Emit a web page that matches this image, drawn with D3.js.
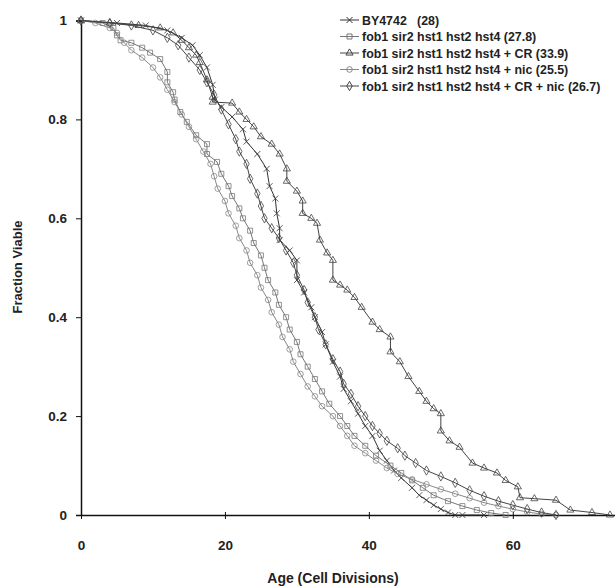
<!DOCTYPE html>
<html>
<head>
<meta charset="utf-8">
<script src="https://cdn.jsdelivr.net/npm/d3@7"></script>
<style>
  body { margin: 0; background: #fff; }
  svg text { font-family: Arial, "Liberation Sans", sans-serif; font-weight: bold; fill: #222; }
</style>
</head>
<body>
<div id="chart"></div>
<script>
// survival curves, [age, fraction viable]
const by4742 = [[0,1],[5,0.995],[9,0.99],[12,0.98],[14,0.965],[15.5,0.95],[16.5,0.93],[17.5,0.905],[18.3,0.87],[18.6,0.84],[19.5,0.825],[21,0.805],[22.5,0.78],[23,0.755],[24.5,0.73],[25.8,0.7],[26.2,0.665],[27,0.64],[27.2,0.61],[27.6,0.58],[27.6,0.556],[29,0.535],[30,0.515],[30,0.475],[31,0.45],[32,0.42],[32.5,0.4],[33.5,0.37],[34,0.345],[35,0.31],[36,0.28],[36.5,0.255],[37.5,0.23],[38.5,0.205],[39.5,0.18],[40.5,0.16],[41.5,0.13],[42.5,0.11],[43.5,0.09],[44.5,0.075],[46,0.055],[47,0.04],[48,0.03],[49,0.02],[50,0.012],[51,0.005],[52,0],[53,0],[56,0]]
const quad = [[0,1],[3,0.995],[4.5,0.985],[5,0.97],[5.5,0.96],[7,0.955],[8.5,0.945],[9.6,0.935],[11,0.922],[12,0.896],[12,0.875],[12.8,0.855],[13,0.84],[13.8,0.815],[14.7,0.795],[16,0.768],[17.5,0.75],[17.5,0.73],[18.9,0.714],[19.5,0.69],[20.5,0.665],[21,0.645],[22,0.62],[22.5,0.6],[23.5,0.575],[24,0.55],[25,0.525],[25.5,0.5],[26,0.475],[27,0.45],[27.5,0.425],[28.5,0.4],[29,0.375],[30,0.35],[30.5,0.325],[31.5,0.3],[32.5,0.275],[33.5,0.25],[34.5,0.225],[36,0.2],[37,0.18],[38,0.16],[39.5,0.14],[41,0.12],[43,0.1],[44.5,0.085],[46,0.07],[47.5,0.055],[49,0.04],[51,0.028],[53,0.018],[55,0.01],[57,0.004],[59,0]]
const quadCR = [[0,1],[4,0.995],[8,0.99],[11,0.985],[12.8,0.975],[14,0.96],[15,0.945],[16,0.93],[16.5,0.915],[17.5,0.88],[18.3,0.845],[18.3,0.835],[21,0.833],[22,0.815],[23,0.8],[24,0.785],[25,0.765],[26.5,0.75],[27.6,0.73],[28.6,0.7],[28.6,0.675],[30,0.655],[30.8,0.635],[30.8,0.61],[32,0.6],[32.8,0.59],[33.2,0.556],[34.2,0.53],[35,0.515],[35,0.475],[36,0.465],[37,0.455],[38,0.44],[39,0.42],[40.5,0.39],[41.5,0.375],[43,0.36],[43,0.33],[44.3,0.31],[45.5,0.28],[47,0.25],[48,0.23],[49,0.215],[50,0.205],[50,0.17],[51.2,0.15],[52.6,0.137],[54.4,0.105],[56,0.095],[57.8,0.085],[59,0.07],[60.7,0.057],[61,0.035],[63,0.033],[66,0.03],[68,0.01],[71,0.005],[73.5,0]]
const quadNic = [[0,1],[2,0.995],[4,0.985],[5,0.975],[6,0.955],[7,0.94],[8.5,0.925],[10,0.905],[11,0.885],[12,0.86],[13,0.835],[14,0.81],[15,0.785],[16,0.76],[17,0.735],[18,0.71],[18.5,0.685],[19,0.66],[20,0.635],[20.5,0.61],[21.5,0.585],[22,0.56],[23,0.535],[23.5,0.51],[24.5,0.485],[25,0.46],[26,0.435],[26.5,0.41],[27.5,0.385],[28,0.36],[29,0.335],[29.5,0.31],[30.5,0.285],[31.5,0.26],[32.5,0.24],[33.5,0.22],[35,0.2],[36,0.18],[37,0.16],[38,0.14],[39.5,0.125],[41,0.11],[42.5,0.095],[44,0.083],[46,0.072],[48,0.062],[50,0.052],[52,0.043],[54,0.034],[56,0.025],[58,0.018],[60,0.012],[62,0.006],[64,0.002],[66,0]]
const quadCRNic = [[0,1],[4,0.995],[7,0.99],[10,0.98],[12,0.965],[13.5,0.95],[15,0.925],[16.5,0.9],[17.5,0.875],[18.5,0.85],[19.5,0.82],[20.5,0.79],[21.5,0.76],[22,0.735],[23,0.71],[23.5,0.68],[24.5,0.65],[25,0.625],[25.5,0.6],[26.5,0.58],[27.5,0.56],[28.5,0.535],[29.5,0.51],[30,0.485],[31,0.455],[31.5,0.43],[32.5,0.4],[33,0.375],[34,0.345],[35,0.315],[36,0.29],[36.5,0.265],[37.5,0.245],[38.5,0.22],[39.5,0.2],[40.5,0.18],[41.5,0.165],[42.5,0.15],[44,0.135],[45,0.12],[46.5,0.105],[48,0.09],[50,0.078],[52,0.065],[54,0.05],[56,0.038],[58,0.028],[60,0.02],[62,0.012],[64,0.005],[66,0]]

const seriesNames = [
  'BY4742   (28)',
  'fob1 sir2 hst1 hst2 hst4 (27.8)',
  'fob1 sir2 hst1 hst2 hst4 + CR (33.9)',
  'fob1 sir2 hst1 hst2 hst4 + nic (25.5)',
  'fob1 sir2 hst1 hst2 hst4 + CR + nic (26.7)'
]
const seriesData = [by4742, quad, quadCR, quadNic, quadCRNic]
const xTicks = [0, 20, 40, 60]
const yTicks = [0, 0.2, 0.4, 0.6, 0.8, 1]

const markers = ['times', 'square', 'triangle', 'circle', 'diamond']
const colors = ['#333', '#777', '#444', '#888', '#444']

const width = 615
const height = 586
const margin = { top: 20.5, right: 0, bottom: 71, left: 81 }

const svg = d3.select('#chart')
  .append('svg')
  .attr('width', width)
  .attr('height', height)

const x = d3.scaleLinear().domain([0, 74.2]).range([margin.left, width - margin.right])
const y = d3.scaleLinear().domain([0, 1]).range([height - margin.bottom, margin.top])

function markerPath(type) {
  if (type === 'times') return 'M-3,-3L3,3M-3,3L3,-3'
  if (type === 'square') return d3.symbol(d3.symbolSquare, 25)()
  if (type === 'triangle') return d3.symbol(d3.symbolTriangle, 22)()
  if (type === 'circle') return d3.symbol(d3.symbolCircle, 25)()
  return d3.symbol(d3.symbolDiamond, 25)()
}

// axes
const yAxis = d3.axisLeft(y).tickValues(yTicks).tickSize(5).tickFormat(d3.format('~g'))
svg.append('g')
  .attr('transform', 'translate(' + margin.left + ',0)')
  .call(yAxis)
  .call(g => g.selectAll('text').attr('x', -14).attr('font-size', 13.5))

const xAxis = d3.axisBottom(x).tickValues(xTicks).tickSize(4).tickSizeOuter(0)
svg.append('g')
  .attr('transform', 'translate(0,' + y(0) + ')')
  .call(xAxis)
  .call(g => g.selectAll('text').attr('y', 25).attr('font-size', 13.5))
  .call(g => g.selectAll('.tick line').attr('y1', -3))

svg.selectAll('.domain').attr('stroke', '#111').attr('stroke-width', 1.5)
svg.selectAll('.tick line').attr('stroke', '#111')
svg.selectAll('.tick text').attr('fill', '#222').attr('font-weight', 'bold')

// curves
const line = d3.line().x(d => x(d[0])).y(d => y(d[1]))

seriesData.forEach((data, i) => {
  const g = svg.append('g')
  g.append('path')
    .datum(data)
    .attr('d', line)
    .attr('fill', 'none')
    .attr('stroke', colors[i])
    .attr('stroke-width', 1)
  g.selectAll('path.mark')
    .data(data)
    .enter()
    .append('path')
    .attr('class', 'mark')
    .attr('d', markerPath(markers[i]))
    .attr('transform', d => 'translate(' + x(d[0]) + ',' + y(d[1]) + ')')
    .attr('fill', 'none')
    .attr('stroke', colors[i])
    .attr('stroke-width', 0.8)
})

// legend
const legend = svg.append('g')
seriesNames.forEach((name, i) => {
  const ly = 20 + i * 16.5
  legend.append('line')
    .attr('x1', 340).attr('x2', 359).attr('y1', ly).attr('y2', ly)
    .attr('stroke', colors[i])
  legend.append('path')
    .attr('d', markerPath(markers[i]))
    .attr('transform', 'translate(349.5,' + ly + ')')
    .attr('fill', 'none')
    .attr('stroke', colors[i])
  legend.append('text')
    .attr('x', 362)
    .attr('y', ly + 4.5)
    .attr('font-size', 12.4)
    .style('white-space', 'pre')
    .text(name)
})

// axis titles
svg.append('text')
  .attr('x', 333)
  .attr('y', 583)
  .attr('text-anchor', 'middle')
  .attr('font-size', 14)
  .text('Age (Cell Divisions)')

svg.append('text')
  .attr('transform', 'translate(22,' + 267 + ') rotate(-90)')
  .attr('text-anchor', 'middle')
  .attr('font-size', 13)
  .text('Fraction Viable')
</script>
</body>
</html>
